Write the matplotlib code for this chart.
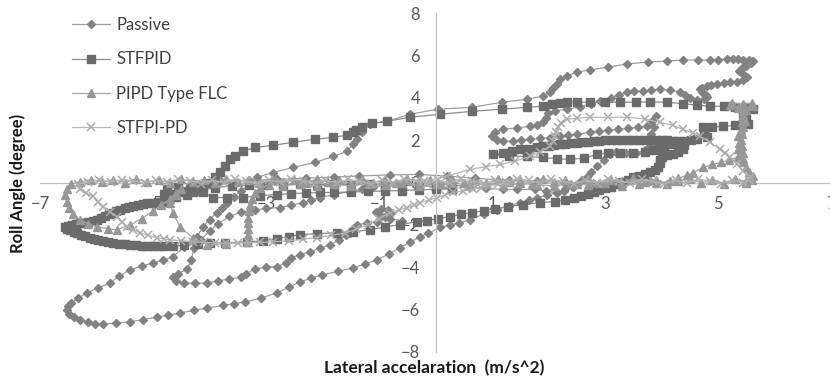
import numpy as np
import matplotlib.pyplot as plt

plt.rcParams['font.family'] = ['Lato', 'DejaVu Sans']

# lateral acceleration (m/s^2), roll angle (deg) pairs, traced in drawing order
passive_outer = [
    (3.20, 1.45), (3.09, 1.33), (2.98, 1.05), (2.86, 0.76), (2.76, 0.50), (2.68, 0.28), (2.55, 0.03),
    (2.43, -0.19), (2.30, -0.33), (2.15, -0.47), (1.98, -0.60), (1.80, -0.71), (1.65, -0.83),
    (1.50, -0.95), (1.30, -1.10), (1.09, -1.28), (0.85, -1.50), (0.61, -1.75), (0.42, -1.90),
    (0.26, -2.02), (0.08, -2.12), (-0.13, -2.40), (-0.27, -2.56), (-0.45, -2.82), (-0.63, -3.08),
    (-0.83, -3.38), (-1.04, -3.65), (-1.25, -3.85), (-1.46, -4.03), (-1.73, -4.20), (-2.01, -4.36),
    (-2.20, -4.52), (-2.40, -4.69), (-2.60, -4.95), (-2.81, -5.21), (-3.08, -5.45), (-3.37, -5.64),
    (-3.56, -5.72), (-3.76, -5.80), (-4.04, -5.92), (-4.28, -6.04), (-4.52, -6.16), (-4.73, -6.26),
    (-4.93, -6.35), (-5.17, -6.47), (-5.41, -6.57), (-5.65, -6.64), (-5.88, -6.68), (-6.02, -6.66),
    (-6.15, -6.60), (-6.29, -6.50), (-6.40, -6.37), (-6.48, -6.20), (-6.52, -6.02), (-6.50, -5.85),
    (-6.45, -5.69), (-6.32, -5.45), (-6.17, -5.21), (-5.97, -4.97), (-5.76, -4.74), (-5.60, -4.42),
    (-5.41, -4.12), (-5.20, -3.95), (-5.00, -3.79), (-4.82, -3.65), (-4.65, -3.51), (-4.45, -3.05),
    (-4.30, -2.75), (-4.22, -2.56), (-4.12, -2.10), (-4.00, -1.75), (-3.87, -1.42), (-3.78, -1.18),
    (-3.69, -0.95), (-3.57, -0.68), (-3.45, -0.40), (-3.30, -0.10), (-3.16, 0.24), (-2.88, 0.47),
    (-2.52, 0.71), (-2.13, 0.95), (-1.81, 1.23), (-1.57, 1.47), (-1.46, 1.80), (-1.39, 2.04),
    (-1.30, 2.37), (-1.16, 2.75), (-0.86, 2.89), (-0.45, 3.22), (0.04, 3.46), (0.65, 3.55),
    (1.18, 3.79), (1.62, 3.93), (1.90, 4.08), (2.02, 4.25), (2.08, 4.45), (2.15, 4.64), (2.20, 4.88),
    (2.33, 5.02), (2.50, 5.21), (2.73, 5.31), (3.05, 5.45), (3.39, 5.59), (3.76, 5.69), (4.10, 5.73),
    (4.38, 5.78), (4.65, 5.78), (4.86, 5.78), (5.00, 5.80), (5.16, 5.83), (5.26, 5.82), (5.35, 5.81),
    (5.45, 5.80), (5.54, 5.78), (5.62, 5.72), (5.58, 5.62), (5.50, 5.52), (5.42, 5.40), (5.38, 5.26),
    (5.45, 5.12), (5.51, 4.97), (5.45, 4.82), (5.33, 4.76), (5.21, 4.74), (5.10, 4.70), (4.98, 4.64),
    (4.88, 4.60), (4.81, 4.55), (4.72, 4.48), (4.68, 4.41), (4.72, 4.28), (4.78, 4.15), (4.81, 4.03),
    (4.76, 3.92), (4.62, 3.90), (4.50, 3.98), (4.42, 4.12), (4.33, 4.27), (4.15, 4.36), (3.97, 4.41),
    (3.82, 4.36), (3.67, 4.31), (3.52, 4.30), (3.39, 4.27), (3.25, 4.15), (3.10, 4.00), (2.91, 3.84),
    (2.75, 3.70), (2.55, 3.56), (2.32, 3.46), (2.12, 3.38), (1.99, 3.28), (1.95, 3.06), (1.90, 2.84),
    (1.80, 2.72), (1.67, 2.65), (1.45, 2.58), (1.19, 2.51), (1.06, 2.38), (1.00, 2.20), (1.08, 2.02),
    (1.20, 1.95), (1.37, 1.95), (1.52, 2.00), (1.67, 2.04), (1.85, 2.08), (2.02, 2.12), (2.20, 2.18),
    (2.35, 2.22), (2.50, 2.27), (2.73, 2.37), (2.90, 2.42), (3.05, 2.47), (3.23, 2.51), (3.40, 2.55),
    (3.58, 2.60), (3.74, 2.65), (3.84, 2.88), (3.90, 3.15), (3.86, 2.60), (3.82, 2.30), (3.86, 2.00),
    (3.80, 1.72), (3.70, 1.52), (3.55, 1.40), (3.38, 1.40), (3.20, 1.45),
]
passive_inner = [
    (2.60, 0.10), (2.43, -0.19), (2.28, -0.40), (2.15, -0.50), (1.95, -0.40), (1.76, -0.33),
    (1.45, -0.33), (1.20, -0.33), (0.90, -0.28), (0.60, -0.20), (0.30, -0.12), (0.00, -0.07),
    (-0.30, -0.05), (-0.60, -0.06), (-0.85, -0.12), (-1.10, -0.22), (-1.30, -0.32), (-1.51, -0.43),
    (-1.80, -0.57), (-2.04, -0.71), (-2.20, -0.83), (-2.35, -0.95), (-2.55, -1.07), (-2.75, -1.18),
    (-3.00, -1.22), (-3.20, -1.30), (-3.45, -1.40), (-3.65, -1.60), (-3.85, -1.95), (-4.00, -2.30),
    (-4.15, -2.70), (-4.28, -3.10), (-4.32, -3.65), (-4.40, -4.10), (-4.55, -4.30), (-4.65, -4.45),
    (-4.60, -4.65), (-4.45, -4.75), (-4.25, -4.76), (-4.05, -4.74), (-3.85, -4.65), (-3.65, -4.55),
    (-3.45, -4.48), (-3.35, -4.30), (-3.20, -4.08), (-3.00, -4.00), (-2.81, -3.98), (-2.65, -3.80),
    (-2.55, -3.55), (-2.40, -3.40), (-2.22, -3.27), (-2.05, -3.10), (-1.87, -2.94), (-1.70, -2.70),
    (-1.58, -2.50), (-1.51, -2.37), (-1.45, -2.15), (-1.39, -1.99), (-1.22, -1.92), (-1.04, -1.85),
    (-0.89, -1.61), (-0.78, -1.45), (-0.84, -1.30), (-0.97, -1.27), (-1.05, -1.40), (-0.96, -1.56),
    (-0.80, -1.72), (-0.60, -1.80),
]
passive_band = [
    (-4.30, 0.00), (-3.80, 0.05), (-3.30, 0.10), (-2.80, 0.15), (-2.30, 0.20), (-1.80, 0.26),
    (-1.35, 0.31), (-0.80, 0.36), (-0.30, 0.38), (0.20, 0.30), (0.70, 0.20), (1.30, 0.10),
    (1.80, 0.05), (2.30, 0.00), (2.80, -0.05), (3.30, 0.00), (3.80, 0.05),
]

stfpid_pts = [
    (0.30, -0.30), (0.00, -0.32), (-0.30, -0.35), (-0.60, -0.38), (-0.90, -0.40), (-1.20, -0.42),
    (-1.50, -0.45), (-1.80, -0.47), (-2.05, -0.47), (-2.30, -0.50), (-2.55, -0.52), (-2.81, -0.57),
    (-3.10, -0.62), (-3.41, -0.71), (-3.69, -0.71), (-3.94, -0.71), (-4.11, -0.47), (-4.30, -0.45),
    (-4.50, -0.47), (-4.65, -0.55), (-4.75, -0.72), (-4.82, -0.90), (-4.92, -0.94), (-5.00, -0.97),
    (-5.10, -0.99), (-5.18, -1.02), (-5.27, -1.06), (-5.35, -1.10), (-5.42, -1.15), (-5.50, -1.21),
    (-5.58, -1.28), (-5.65, -1.35), (-5.71, -1.42), (-5.78, -1.51), (-5.85, -1.60), (-5.92, -1.68),
    (-5.99, -1.75), (-6.07, -1.80), (-6.15, -1.85), (-6.22, -1.89), (-6.29, -1.92), (-6.36, -1.97),
    (-6.43, -2.01), (-6.50, -2.05), (-6.55, -2.12), (-6.53, -2.18), (-6.47, -2.25), (-6.40, -2.32),
    (-6.34, -2.40), (-6.27, -2.47), (-6.20, -2.54), (-6.12, -2.60), (-6.05, -2.66), (-5.97, -2.71),
    (-5.88, -2.75), (-5.79, -2.80), (-5.70, -2.84), (-5.60, -2.88), (-5.50, -2.92), (-5.40, -2.94),
    (-5.30, -2.96), (-5.20, -2.98), (-5.10, -2.99), (-5.00, -2.99), (-4.90, -2.99), (-4.80, -2.99),
    (-4.65, -2.99), (-4.45, -2.97), (-4.20, -2.90), (-3.99, -2.84), (-3.73, -2.84), (-3.34, -2.80),
    (-3.05, -2.75), (-2.81, -2.65), (-2.60, -2.55), (-2.40, -2.46), (-2.10, -2.42), (-1.74, -2.37),
    (-1.46, -2.32), (-1.16, -2.23), (-0.90, -2.10), (-0.63, -1.99), (-0.33, -1.85), (-0.15, -1.80),
    (0.05, -1.70), (0.26, -1.61), (0.45, -1.50), (0.65, -1.42), (0.85, -1.33), (1.05, -1.23),
    (1.28, -1.14), (1.55, -1.04), (1.85, -0.95), (2.11, -0.90), (2.30, -0.82), (2.45, -0.74),
    (2.58, -0.65), (2.70, -0.55), (2.80, -0.45), (2.90, -0.35), (3.00, -0.27), (3.10, -0.19),
    (3.20, -0.08), (3.30, 0.03), (3.40, 0.14), (3.50, 0.24), (3.60, 0.33), (3.70, 0.42), (3.80, 0.50),
    (3.88, 0.60), (3.93, 0.75), (3.97, 0.90), (3.98, 1.05), (4.00, 1.20), (4.10, 1.30), (4.20, 1.35),
    (4.30, 1.45), (4.38, 1.60), (4.40, 1.75), (4.35, 1.85), (4.30, 1.95), (4.20, 1.98), (4.10, 2.00),
    (4.00, 2.00), (3.90, 2.00), (3.80, 2.01), (3.70, 2.02), (3.60, 2.02), (3.50, 2.02), (3.40, 2.02),
    (3.30, 2.02), (3.20, 2.01), (3.10, 2.00), (3.00, 1.99), (2.90, 1.98), (2.80, 1.96), (2.70, 1.93),
    (2.60, 1.91), (2.50, 1.88), (2.40, 1.86), (2.30, 1.83), (2.20, 1.80), (2.10, 1.77), (2.00, 1.73),
    (1.90, 1.70), (1.80, 1.66), (1.65, 1.60), (1.50, 1.56), (1.35, 1.48), (1.20, 1.40), (1.02, 1.33),
    (1.30, 1.25), (1.62, 1.23), (1.90, 1.18), (2.15, 1.12), (2.38, 1.09), (2.62, 1.15), (2.86, 1.33),
    (3.05, 1.40), (3.27, 1.38), (3.50, 1.40), (3.70, 1.45), (3.85, 1.55), (3.95, 1.65), (4.05, 1.72),
    (4.20, 1.80), (4.30, 1.88), (4.40, 1.95), (4.52, 2.00), (4.63, 2.04), (4.81, 2.13), (4.75, 2.40),
    (4.74, 2.60), (4.90, 2.62), (5.09, 2.65), (5.30, 2.70), (5.53, 2.75), (5.50, 3.00), (5.45, 3.30),
    (5.62, 3.46), (5.51, 3.55), (5.30, 3.58), (5.10, 3.60), (4.86, 3.60), (4.63, 3.65), (4.38, 3.72),
    (4.10, 3.79), (3.80, 3.80), (3.55, 3.79), (3.27, 3.79), (3.00, 3.79), (2.73, 3.79), (2.50, 3.79),
    (2.33, 3.79), (2.20, 3.76), (2.06, 3.70), (1.90, 3.60), (1.62, 3.55), (1.18, 3.46), (0.65, 3.36),
    (0.08, 3.22), (-0.45, 3.08), (-0.86, 2.89), (-1.12, 2.80), (-1.30, 2.61), (-1.40, 2.48),
    (-1.46, 2.37), (-1.57, 2.23), (-1.81, 2.13), (-2.13, 2.04), (-2.52, 1.90), (-2.88, 1.75),
    (-3.19, 1.66), (-3.41, 1.47), (-3.55, 1.23), (-3.64, 1.09), (-3.73, 0.80), (-3.82, 0.50),
    (-3.90, 0.24), (-4.00, 0.00), (-4.15, -0.15), (-4.35, -0.25), (-4.55, -0.20), (-4.75, -0.30),
    (-4.80, -0.55), (-4.60, -0.70), (-4.40, -0.60), (-4.20, -0.40), (-3.90, -0.25), (-3.60, -0.15),
    (-3.30, -0.12), (-3.00, -0.10), (-2.70, -0.10), (-2.40, -0.08), (-2.10, -0.10), (-1.80, -0.08),
    (-1.50, -0.10), (-1.20, -0.08), (-0.90, -0.10), (-0.60, -0.12), (-0.30, -0.15), (0.00, -0.20),
    (0.30, -0.30),
]

pipd_pts = [
    (5.50, 0.05), (5.30, 0.15), (5.10, -0.05), (4.90, 0.12), (4.70, -0.02), (4.50, 0.18), (4.30, 0.06),
    (4.10, -0.08), (3.90, 0.14), (3.70, 0.02), (3.50, 0.20), (3.30, -0.04), (3.10, 0.12), (2.90, 0.00),
    (2.70, 0.16), (2.50, -0.06), (2.30, 0.10), (2.10, 0.03), (1.90, 0.18), (1.70, -0.05), (1.50, 0.12),
    (1.30, 0.02), (1.10, 0.16), (0.90, -0.04), (0.70, 0.10), (0.50, 0.00), (0.30, 0.18), (0.10, -0.06),
    (-0.10, 0.14), (-0.30, 0.02), (-0.50, 0.18), (-0.70, -0.04), (-0.90, 0.12), (-1.10, 0.00),
    (-1.30, 0.16), (-1.50, -0.05), (-1.70, 0.10), (-1.90, 0.02), (-2.10, 0.17), (-2.30, -0.04),
    (-2.50, 0.12), (-2.70, 0.01), (-2.90, 0.15), (-3.10, -0.03), (-3.30, 0.12), (-3.50, 0.02),
    (-3.70, 0.17), (-3.90, -0.02), (-4.10, 0.14), (-4.30, 0.04), (-4.50, 0.16), (-4.70, -0.02),
    (-4.90, 0.12), (-5.10, 0.03), (-5.30, 0.16), (-5.50, 0.00), (-5.70, 0.12), (-5.90, 0.04),
    (-6.10, 0.14), (-6.30, 0.02), (-6.45, -0.05), (-6.52, -0.30), (-6.55, -0.60), (-6.52, -0.90),
    (-6.48, -1.20), (-6.41, -1.50), (-6.30, -1.75), (-6.15, -1.95), (-6.00, -2.08), (-5.80, -2.18),
    (-5.64, -2.23), (-5.40, -2.00), (-5.20, -1.70), (-5.00, -1.35), (-4.85, -1.05), (-4.70, -0.80),
    (-4.60, -0.50), (-4.50, -0.30), (-4.60, -0.60), (-4.70, -0.95), (-4.65, -1.42), (-4.52, -2.09),
    (-4.30, -2.60), (-4.04, -2.94), (-3.70, -2.88), (-3.34, -2.80), (-3.32, -2.50), (-3.32, -2.20),
    (-3.32, -1.90), (-3.32, -1.66), (-3.30, -1.35), (-3.28, -1.05), (-3.25, -0.80), (-3.20, -0.50),
    (-3.10, -0.25), (-2.95, -0.10), (-2.70, -0.16), (-2.40, -0.06), (-2.10, -0.18), (-1.80, -0.08),
    (-1.50, -0.16), (-1.20, -0.06), (-0.90, -0.14), (-0.60, -0.04), (-0.30, -0.16), (0.00, -0.08),
    (0.30, -0.02), (0.60, -0.14), (0.90, -0.06), (1.20, -0.16), (1.50, -0.04), (1.80, -0.12),
    (2.10, -0.16), (2.40, -0.05), (2.70, -0.12), (3.00, -0.03), (3.30, -0.15), (3.60, -0.06),
    (3.90, -0.02), (4.15, 0.05), (4.30, 0.20), (4.45, 0.35), (4.56, 0.47), (4.74, 0.71), (4.90, 0.85),
    (5.05, 0.95), (5.20, 1.05), (5.35, 1.20), (5.36, 1.56), (5.37, 1.85), (5.36, 2.18), (5.40, 2.50),
    (5.42, 2.84), (5.42, 3.10), (5.45, 3.36), (5.35, 3.50), (5.22, 3.65), (5.25, 3.75), (5.45, 3.70),
    (5.60, 3.75), (5.62, 3.60), (5.50, 3.40), (5.45, 3.20), (5.48, 2.90), (5.45, 2.60), (5.42, 2.30),
    (5.40, 2.00), (5.42, 1.70), (5.45, 1.40), (5.45, 1.10), (5.45, 0.95), (5.50, 0.75), (5.55, 0.50),
    (5.62, 0.30), (5.60, 0.14), (5.50, 0.00),
]

stfpi_pd_pts = [
    (5.45, 0.00), (5.25, 0.12), (5.05, -0.06), (4.85, 0.08), (4.65, 0.16), (4.45, -0.03), (4.25, 0.10),
    (4.05, -0.08), (3.85, 0.06), (3.65, 0.15), (3.45, -0.04), (3.25, 0.09), (3.05, 0.17), (2.85, -0.02),
    (2.65, 0.11), (2.45, -0.07), (2.25, 0.07), (2.05, 0.15), (1.85, -0.03), (1.65, 0.10), (1.45, 0.17),
    (1.25, 0.01), (1.05, 0.12), (0.85, -0.06), (0.65, 0.08), (0.45, 0.16), (0.25, -0.02), (0.05, 0.10),
    (-0.15, -0.05), (-0.35, 0.09), (-0.55, 0.16), (-0.75, 0.00), (-0.95, 0.11), (-1.15, -0.06),
    (-1.35, 0.08), (-1.55, 0.15), (-1.75, -0.01), (-1.95, 0.10), (-2.15, -0.05), (-2.35, 0.09),
    (-2.55, 0.16), (-2.75, 0.01), (-2.95, 0.11), (-3.15, -0.06), (-3.35, 0.08), (-3.55, 0.15),
    (-3.75, 0.00), (-3.95, 0.10), (-4.15, -0.05), (-4.35, 0.09), (-4.55, 0.16), (-4.75, 0.01),
    (-4.95, 0.11), (-5.15, -0.03), (-5.35, 0.08), (-5.55, 0.14), (-5.75, 0.01), (-5.95, 0.10),
    (-6.15, 0.04), (-6.32, -0.08), (-6.29, -0.33), (-6.18, -0.50), (-6.06, -0.66), (-5.97, -0.90),
    (-5.88, -1.14), (-5.76, -1.38), (-5.64, -1.61), (-5.55, -1.85), (-5.46, -2.09), (-5.35, -2.23),
    (-5.23, -2.37), (-5.08, -2.50), (-4.93, -2.61), (-4.80, -2.66), (-4.70, -2.70), (-4.50, -2.76),
    (-4.30, -2.80), (-4.10, -2.83), (-3.90, -2.85), (-3.70, -2.86), (-3.50, -2.86), (-3.30, -2.85),
    (-3.10, -2.83), (-2.88, -2.80), (-2.60, -2.75), (-2.35, -2.68), (-2.10, -2.60), (-1.85, -2.50),
    (-1.60, -2.38), (-1.40, -2.20), (-1.20, -2.00), (-1.00, -1.70), (-0.80, -1.42), (-0.65, -1.30),
    (-0.50, -1.18), (-0.38, -1.07), (-0.27, -0.95), (-0.12, -0.83), (0.03, -0.71), (0.17, -0.60),
    (0.31, -0.47), (0.48, -0.40), (0.66, -0.33), (0.80, -0.25), (0.95, -0.15), (1.10, -0.08),
    (1.30, -0.02), (np.nan, np.nan),
    (-0.20, 0.05), (0.20, 0.30), (0.61, 0.62), (0.90, 0.75), (1.14, 0.85), (1.40, 1.00), (1.67, 1.23),
    (1.85, 1.45), (2.02, 1.70), (2.08, 1.95), (2.11, 2.18), (2.14, 2.40), (2.17, 2.60), (2.23, 2.80),
    (2.33, 2.99), (2.50, 3.03), (2.73, 3.08), (3.05, 3.08), (3.39, 3.08), (3.70, 3.00), (3.97, 2.84),
    (4.20, 2.70), (4.38, 2.51), (4.55, 2.35), (4.68, 2.18), (4.86, 1.90), (5.04, 1.56), (5.12, 1.38),
    (5.21, 1.18), (5.34, 0.85), (5.45, 0.52), (5.57, 0.28), (5.55, 0.10), (5.45, 0.00),
]

series_names = ['Passive', 'STFPID', 'PIPD Type FLC', 'STFPI-PD']
x_ticks = [-7, -5, -3, -1, 1, 3, 5, 7]
y_ticks = [-8, -6, -4, -2, 0, 2, 4, 6, 8]


def unzip(*segments):
    pts = []
    for i, seg in enumerate(segments):
        if i:
            pts.append((np.nan, np.nan))
        pts.extend(seg)
    arr = np.array(pts, dtype=float)
    return arr[:, 0], arr[:, 1]


fig = plt.figure(figsize=(8.3, 3.77), dpi=100)
ax = fig.add_axes([40 / 830, 25 / 377, 791 / 830, 339 / 377])

px, py = unzip(passive_outer, passive_inner, passive_band)
ax.plot(px, py, color='#a0a0a0', lw=0.9, marker='D', ms=4.0,
        mfc='#828282', mec='#828282', label=series_names[0])
sx, sy = unzip(stfpid_pts)
ax.plot(sx, sy, color='#8c8c8c', lw=0.9, marker='s', ms=5.4,
        mfc='#6b6b6b', mec='#6b6b6b', label=series_names[1])
tx, ty = unzip(pipd_pts)
ax.plot(tx, ty, color='#a8a8a8', lw=0.9, marker='^', ms=5.2,
        mfc='#979797', mec='#979797', label=series_names[2])
kx, ky = unzip(stfpi_pd_pts)
ax.plot(kx, ky, color='#b8b8b8', lw=0.9, marker='x', ms=5.5, mew=1.1,
        mec='#ababab', label=series_names[3])

ax.set_xlim(-7, 7)
ax.set_ylim(-8, 8)
ax.set_xticks(x_ticks)
ax.set_yticks(y_ticks)
for side in ['top', 'right']:
    ax.spines[side].set_visible(False)
ax.spines['left'].set_position(('data', 0))
ax.spines['bottom'].set_position(('data', 0))
for side in ['left', 'bottom']:
    ax.spines[side].set_color('#c0c0c0')
    ax.spines[side].set_linewidth(0.9)
ax.spines['bottom'].set_zorder(0)
ax.tick_params(axis='both', length=0, labelsize=12, labelcolor='#595959')
ax.tick_params(axis='x', pad=10)
ax.tick_params(axis='y', pad=11)
ax.patch.set_alpha(0)

fig.text(18 / 830, 1 - 183 / 377, 'Roll Angle (degree)', rotation=90,
         ha='center', va='center', fontsize=12, fontweight='bold', color='#1a1a1a')
fig.text(434 / 830, 1 - 368 / 377, 'Lateral accelaration  (m/s^2)',
         ha='center', va='center', fontsize=12.5, fontweight='bold', color='#1a1a1a')

ax.legend(loc='upper left', bbox_to_anchor=(72 / 830, 1 - 17 / 377),
          bbox_transform=fig.transFigure, frameon=False, fontsize=12,
          labelcolor='#404040', handlelength=2.3, handletextpad=0.35,
          labelspacing=1.1, borderpad=0, borderaxespad=0)

fig.savefig('out.png', dpi=100)
